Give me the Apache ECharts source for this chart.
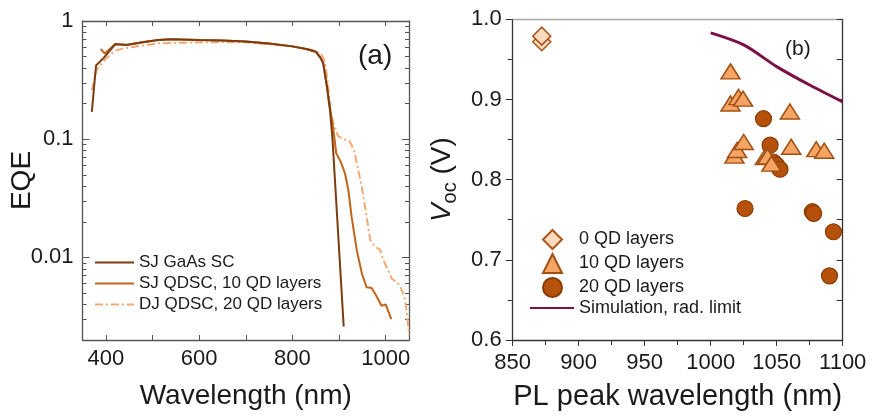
<!DOCTYPE html>
<html><head><meta charset="utf-8">
<script src="https://cdn.jsdelivr.net/npm/echarts@6/dist/echarts.min.js"></script>
<style>html,body{margin:0;padding:0;background:#fff}#c{width:872px;height:419px}</style>
</head><body><div id="c"></div>
<script>
// ---------- Panel (a): EQE spectra ----------
const gaasWl  = [370, 379, 396, 420, 445, 480, 512, 540, 600, 650, 700, 750, 800, 830, 850, 860, 866, 874, 881, 886, 910];
const gaasEqe = [0.17, 0.42, 0.49, 0.635, 0.626, 0.66, 0.69, 0.70, 0.69, 0.685, 0.67, 0.645, 0.61, 0.58, 0.55, 0.49, 0.44, 0.28, 0.17, 0.1, 0.0026];

const qd10Wl  = [389, 398, 420, 445, 480, 512, 540, 600, 650, 700, 750, 800, 830, 850, 860, 866, 874, 881, 888, 894, 904, 913, 920, 927, 938, 949, 959, 970, 979, 991, 1000, 1012];
const qd10Eqe = [0.58, 0.53, 0.64, 0.63, 0.665, 0.69, 0.70, 0.69, 0.685, 0.67, 0.645, 0.61, 0.58, 0.55, 0.49, 0.44, 0.28, 0.18, 0.12, 0.076, 0.064, 0.051, 0.037, 0.022, 0.0115, 0.0073, 0.0056, 0.0055, 0.0048, 0.0039, 0.004, 0.003];

const dj20Wl  = [370, 380, 400, 420, 437, 480, 512, 600, 700, 800, 850, 862, 870, 876, 882, 888, 898, 910, 922, 932, 940, 949, 957, 967, 977, 988, 995, 1002, 1013, 1023, 1030, 1040, 1045, 1050];
const dj20Eqe = [0.26, 0.385, 0.48, 0.56, 0.587, 0.62, 0.647, 0.66, 0.66, 0.61, 0.56, 0.52, 0.45, 0.3, 0.17, 0.136, 0.106, 0.1, 0.097, 0.081, 0.058, 0.039, 0.025, 0.014, 0.0124, 0.0116, 0.0095, 0.0083, 0.0066, 0.0062, 0.0058, 0.0047, 0.0035, 0.0022];

const eqeMajorTicks = [0.01, 0.1, 1];
const eqeMinorTicks = [0.002,0.003,0.004,0.005,0.006,0.007,0.008,0.009,0.02,0.03,0.04,0.05,0.06,0.07,0.08,0.09,0.2,0.3,0.4,0.5,0.6,0.7,0.8,0.9];
const wlTickLabels = [400, 600, 800, 1000];
const wlTicks = [400, 500, 600, 700, 800, 900, 1000];

// ---------- Panel (b): Voc vs PL peak ----------
const qd0Pl  = [872, 872];
const qd0Voc = [0.972, 0.979];
const qd10Pl  = [1015, 1015, 1021, 1024.5, 1060, 1018, 1020, 1025, 1041, 1043, 1046, 1061, 1080, 1086];
const qd10Voc = [0.935, 0.895, 0.903, 0.901, 0.885, 0.830, 0.837, 0.847, 0.828, 0.829, 0.820, 0.841, 0.838, 0.836];
const qd20Pl  = [1040, 1045, 1047.5, 1050, 1052.5, 1026, 1077, 1078, 1093, 1090];
const qd20Voc = [0.876, 0.843, 0.822, 0.818, 0.813, 0.764, 0.760, 0.758, 0.735, 0.680];
const simPl  = [1000, 1025, 1050, 1075, 1100];
const simVoc = [0.983, 0.968, 0.941, 0.918, 0.897];

const pairs = (xs, ys) => xs.map((x, i) => [x, ys[i]]);
const FONT = '"Liberation Sans", Arial, sans-serif';
const TXT = '#1a1a1a';

const chart = echarts.init(document.getElementById('c'), null, {renderer: 'canvas'});
const axisLineA = {show: true, lineStyle: {color: '#555', width: 1.3}};
const logBase = {type: 'log', logBase: 10, min: 0.002, max: 1, gridIndex: 0, splitLine: {show: false}};
const plain = v => String(v);

const option = {
  backgroundColor: '#fff',
  animation: false,
  textStyle: {fontFamily: FONT},
  grid: [
    {left: 82.5, top: 21, width: 326.5, height: 319, outerBoundsMode: 'none', containLabel: false},
    {left: 512.7, top: 19.3, width: 330, height: 320.7, outerBoundsMode: 'none', containLabel: false}
  ],
  xAxis: [
    {type: 'value', gridIndex: 0, min: 350, max: 1050, position: 'bottom',
     axisLine: axisLineA, splitLine: {show: false},
     axisTick: {inside: true, length: 5, customValues: wlTicks, lineStyle: {color: '#555'}},
     axisLabel: {customValues: wlTickLabels, fontSize: 22, margin: 8, color: TXT, fontFamily: FONT, formatter: plain},
     name: 'Wavelength (nm)', nameLocation: 'middle', nameGap: 42, nameMoveOverlap: false,
     nameTextStyle: {fontSize: 28, color: TXT, fontFamily: FONT}},
    {type: 'value', gridIndex: 0, min: 350, max: 1050, position: 'top',
     axisLine: axisLineA, splitLine: {show: false},
     axisTick: {inside: true, length: 5, customValues: wlTicks, lineStyle: {color: '#555'}},
     axisLabel: {show: false}},
    {type: 'value', gridIndex: 1, min: 850, max: 1100, interval: 50, position: 'bottom',
     axisLine: {show: true, lineStyle: {color: '#333', width: 1.3}}, splitLine: {show: false},
     axisTick: {inside: false, length: 6, lineStyle: {color: '#333'}},
     minorTick: {show: true, splitNumber: 2, length: 5, lineStyle: {color: '#333'}},
     axisLabel: {fontSize: 22, margin: 12, color: TXT, fontFamily: FONT, formatter: plain},
     name: 'PL peak wavelength (nm)', nameLocation: 'middle', nameGap: 42, nameMoveOverlap: false,
     nameTextStyle: {fontSize: 29, color: TXT, fontFamily: FONT}},
    {type: 'value', gridIndex: 1, min: 850, max: 1100, position: 'top',
     axisLine: {show: true, lineStyle: {color: '#aaa', width: 1.3}}, splitLine: {show: false},
     axisTick: {show: false}, axisLabel: {show: false}}
  ],
  yAxis: [
    Object.assign({}, logBase, {position: 'left', axisLine: axisLineA,
      axisTick: {inside: true, length: 7, customValues: eqeMajorTicks, lineStyle: {color: '#555'}},
      axisLabel: {customValues: eqeMajorTicks, fontSize: 22, margin: 9, color: TXT, fontFamily: FONT,
        formatter: v => String(+(+v).toPrecision(3))},
      name: 'EQE', nameLocation: 'middle', nameGap: 46, nameRotate: 90, nameMoveOverlap: false,
      nameTextStyle: {fontSize: 28, color: TXT, fontFamily: FONT}}),
    Object.assign({}, logBase, {position: 'left', axisLine: {show: false},
      axisTick: {inside: true, length: 4, customValues: eqeMinorTicks, lineStyle: {color: '#555'}},
      axisLabel: {show: false}}),
    Object.assign({}, logBase, {position: 'right', axisLine: axisLineA,
      axisTick: {inside: true, length: 7, customValues: eqeMajorTicks, lineStyle: {color: '#555'}},
      axisLabel: {show: false}}),
    Object.assign({}, logBase, {position: 'right', axisLine: {show: false},
      axisTick: {inside: true, length: 4, customValues: eqeMinorTicks, lineStyle: {color: '#555'}},
      axisLabel: {show: false}}),
    {type: 'value', gridIndex: 1, min: 0.6, max: 1.0, interval: 0.1, position: 'left',
     axisLine: {show: true, lineStyle: {color: '#333', width: 1.3}}, splitLine: {show: false},
     axisTick: {inside: false, length: 7, lineStyle: {color: '#333'}},
     minorTick: {show: true, splitNumber: 2, length: 5, lineStyle: {color: '#333'}},
     axisLabel: {fontSize: 22, margin: 11, color: TXT, fontFamily: FONT, formatter: v => (+v).toFixed(1)},
     name: '{v|V}{s|oc}{n| (V)}', nameLocation: 'middle', nameGap: 52, nameRotate: 90, nameMoveOverlap: false,
     nameTextStyle: {fontSize: 28, color: TXT, fontFamily: FONT,
       rich: {
         v: {fontSize: 28, fontStyle: 'italic', color: TXT, fontFamily: FONT, lineHeight: 36, verticalAlign: 'middle'},
         s: {fontSize: 20, color: TXT, fontFamily: FONT, lineHeight: 20, verticalAlign: 'bottom'},
         n: {fontSize: 28, color: TXT, fontFamily: FONT, lineHeight: 36, verticalAlign: 'middle'}
       }}},
    {type: 'value', gridIndex: 1, min: 0.6, max: 1.0, interval: 0.05, position: 'right',
     axisLine: {show: true, lineStyle: {color: '#333', width: 1.3}}, splitLine: {show: false},
     axisTick: {inside: true, length: 6, lineStyle: {color: '#333'}},
     axisLabel: {show: false}}
  ],
  legend: [
    {orient: 'vertical', left: 94, top: 254, itemWidth: 39, itemHeight: 14, itemGap: 4, padding: 0,
     itemStyle: {opacity: 0},
     data: ['SJ GaAs SC', 'SJ QDSC, 10 QD layers', 'DJ QDSC, 20 QD layers'],
     textStyle: {fontSize: 17, color: TXT, fontFamily: FONT}},
    {orient: 'vertical', left: 542, top: 229, itemWidth: 19, itemHeight: 19, itemGap: 3, padding: 0,
     data: ['0 QD layers', '10 QD layers', '20 QD layers'],
     textStyle: {fontSize: 18, color: TXT, fontFamily: FONT, padding: [0, 0, 0, 12]}},
    {orient: 'vertical', left: 529, top: 299, itemWidth: 44, itemHeight: 18, padding: 0,
     itemStyle: {opacity: 0},
     data: ['Simulation, rad. limit'],
     textStyle: {fontSize: 18, color: TXT, fontFamily: FONT}}
  ],
  graphic: [
    {type: 'text', left: 358, top: 42, style: {text: '(a)', fontSize: 28, fill: TXT, fontFamily: FONT}},
    {type: 'text', left: 785, top: 39, style: {text: '(b)', fontSize: 21, fill: TXT, fontFamily: FONT}}
  ],
  series: [
    {name: 'SJ GaAs SC', type: 'line', xAxisIndex: 0, yAxisIndex: 0, data: pairs(gaasWl, gaasEqe),
     symbol: 'none', lineStyle: {color: '#7c3c10', width: 2}, itemStyle: {color: '#7c3c10'}, z: 4},
    {name: 'SJ QDSC, 10 QD layers', type: 'line', xAxisIndex: 0, yAxisIndex: 0, data: pairs(qd10Wl, qd10Eqe),
     symbol: 'none', lineStyle: {color: '#c2651c', width: 2}, itemStyle: {color: '#c2651c'}, z: 3},
    {name: 'DJ QDSC, 20 QD layers', type: 'line', xAxisIndex: 0, yAxisIndex: 0, data: pairs(dj20Wl, dj20Eqe),
     symbol: 'none', lineStyle: {color: '#f6a872', width: 2, type: [8, 3, 2, 3]}, itemStyle: {color: '#f6a872'}, z: 2},
    {name: '0 QD layers', type: 'scatter', xAxisIndex: 2, yAxisIndex: 4, data: pairs(qd0Pl, qd0Voc),
     symbol: 'diamond', symbolSize: [18, 18],
     itemStyle: {color: '#fcdcbc', borderColor: '#a9551c', borderWidth: 1.5, opacity: 1}, z: 3},
    {name: '10 QD layers', type: 'scatter', xAxisIndex: 2, yAxisIndex: 4, data: pairs(qd10Pl, qd10Voc),
     symbol: 'triangle', symbolSize: [19, 15],
     itemStyle: {color: '#f5a464', borderColor: '#a24f12', borderWidth: 1.5, opacity: 1}, z: 4},
    {name: '20 QD layers', type: 'scatter', xAxisIndex: 2, yAxisIndex: 4, data: pairs(qd20Pl, qd20Voc),
     symbol: 'circle', symbolSize: 16,
     itemStyle: {color: '#b5510a', borderColor: '#8a3a04', borderWidth: 1.2, opacity: 1}, z: 3},
    {name: 'Simulation, rad. limit', type: 'line', xAxisIndex: 2, yAxisIndex: 4, data: pairs(simPl, simVoc),
     symbol: 'none', smooth: 0.3, lineStyle: {color: '#7b1146', width: 3}, itemStyle: {color: '#7b1146'}, z: 5}
  ]
};
chart.setOption(option);
</script>
</body></html>
